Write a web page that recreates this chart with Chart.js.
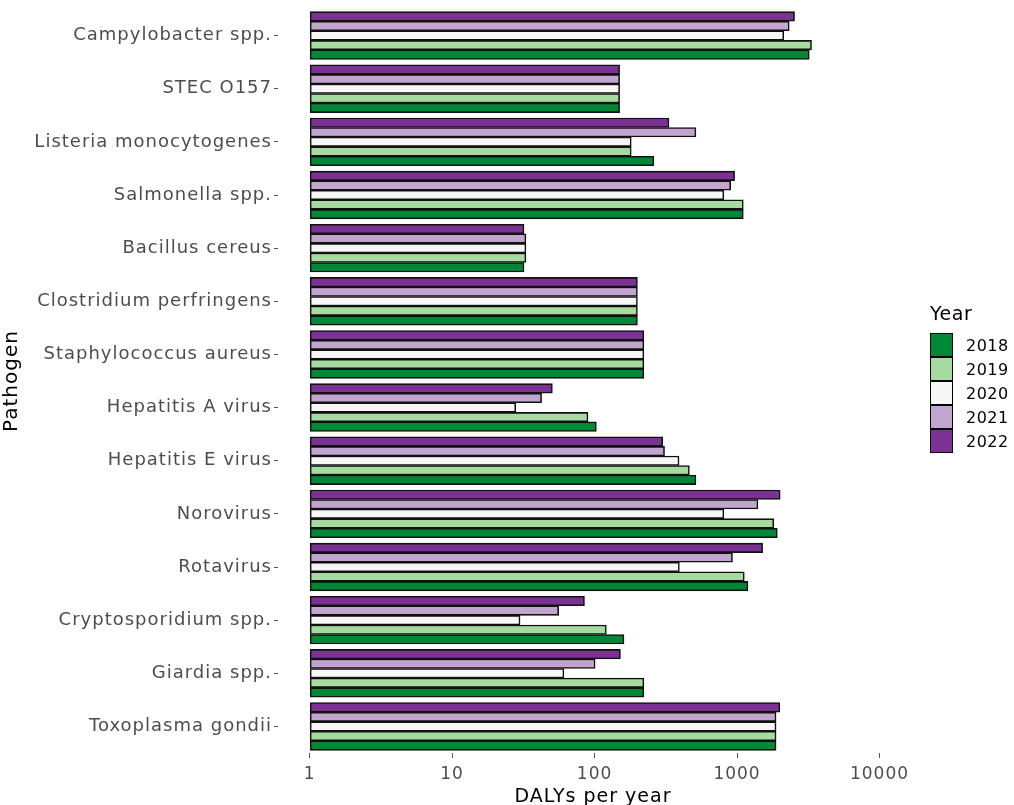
<!DOCTYPE html>
<html>
<head>
<meta charset="utf-8">
<script src="https://cdn.jsdelivr.net/npm/chart.js@4/dist/chart.umd.min.js"></script>
<style>
  body { margin: 0; background: #fff; }
  #wrap { position: relative; width: 1014px; height: 805px; }
  #legend { position: absolute; left: 930px; top: 302px; font-family: "DejaVu Sans", sans-serif; }
  #legend .title { font-size: 19px; color: #000; margin-bottom: 9px; letter-spacing: 0.5px; }
  #legend .item { display: flex; align-items: center; height: 24px; }
  #legend .box { width: 21px; height: 22px; border: 1px solid #000; box-sizing: content-box; margin-right: 13px; }
  #legend .lbl { font-size: 16px; color: #000; letter-spacing: 0.5px; }
</style>
</head>
<body>
<div id="wrap">
  <canvas id="chart" width="1014" height="805"></canvas>
  <div id="legend"></div>
</div>
<script>
const pathogens = ['Campylobacter spp.', 'STEC O157', 'Listeria monocytogenes', 'Salmonella spp.',
    'Bacillus cereus', 'Clostridium perfringens', 'Staphylococcus aureus', 'Hepatitis A virus',
    'Hepatitis E virus', 'Norovirus', 'Rotavirus', 'Cryptosporidium spp.', 'Giardia spp.', 'Toxoplasma gondii'];

const years = ['2018', '2019', '2020', '2021', '2022'];

// DALYs per year, one array per year, in pathogen order
const dalys2018 = [3215, 150, 261, 1107, 32, 200, 222, 103, 515, 1918, 1193, 161, 222, 1880];
const dalys2019 = [3335, 150, 181, 1107, 33, 200, 222, 90, 463, 1812, 1125, 121, 222, 1880];
const dalys2020 = [2130, 150, 181, 809, 33, 200, 222, 28, 392, 809, 394, 30, 61, 1880];
const dalys2021 = [2325, 150, 515, 903, 33, 200, 222, 42.5, 310, 1403, 930, 56, 101, 1880];
const dalys2022 = [2535, 150, 333, 962, 32, 200, 222, 50.6, 301, 2010, 1513, 85, 152, 2000];

const xTicks = [1, 10, 100, 1000, 10000];

const colors = ['#008837', '#a6dba0', '#f7f7f7', '#c2a5cf', '#7b3294'];
const series = [dalys2018, dalys2019, dalys2020, dalys2021, dalys2022];

// 2022 drawn on top of each group, so datasets go in reverse order
const datasets = years.map((y, i) => ({
    label: y,
    data: series[i],
    backgroundColor: colors[i],
    borderColor: '#111',
    borderWidth: 1.6,
    borderSkipped: false,
    inflateAmount: 0.3,
    base: 1,
    categoryPercentage: 0.9,
    barPercentage: 1.0
})).reverse();

const font = '"DejaVu Sans", sans-serif';

// the reference text is a bit wider than DejaVu at this size
const spacing = {
    id: 'spacing',
    beforeDraw(chart) { chart.ctx.letterSpacing = '1px'; }
};

new Chart(document.getElementById('chart').getContext('2d'), {
    type: 'bar',
    data: { labels: pathogens, datasets: datasets },
    plugins: [spacing],
    options: {
        indexAxis: 'y',
        responsive: false,
        animation: false,
        layout: { padding: { top: 9, right: 106, left: 0, bottom: 0 } },
        plugins: {
            legend: { display: false },
            tooltip: { enabled: false }
        },
        scales: {
            x: {
                type: 'logarithmic',
                min: Math.pow(10, -0.2),
                max: Math.pow(10, 4.2),
                afterBuildTicks: function(scale) {
                    scale.ticks = xTicks.map(v => ({ value: v }));
                },
                afterFit: function(scale) { scale.height = 52; },
                border: { display: false },
                grid: { drawOnChartArea: false, drawTicks: true, tickLength: 5, color: '#555' },
                ticks: {
                    autoSkip: false,
                    maxRotation: 0,
                    padding: 6,
                    color: '#4d4d4d',
                    font: { family: font, size: 17 },
                    callback: v => String(v)
                },
                title: {
                    display: true,
                    text: 'DALYs per year',
                    color: '#000',
                    padding: { top: 0, bottom: -3 },
                    font: { family: font, size: 19 }
                }
            },
            y: {
                afterFit: function(scale) {
                    scale.width = 278;
                    scale.paddingTop = 0;
                    scale.paddingBottom = 0;
                },
                border: { display: false },
                grid: { offset: false, drawOnChartArea: false, drawTicks: true, tickLength: 4, color: '#555' },
                ticks: {
                    autoSkip: false,
                    padding: 2,
                    color: '#4d4d4d',
                    font: { family: font, size: 18 }
                },
                title: {
                    display: true,
                    text: 'Pathogen',
                    color: '#000',
                    padding: { top: 0, bottom: 0 },
                    font: { family: font, size: 20 }
                }
            }
        }
    }
});

// legend, 2018 first
const legend = document.getElementById('legend');
let html = '<div class="title">Year</div>';
years.forEach((y, i) => {
    html += '<div class="item"><span class="box" style="background:' + colors[i] + '"></span><span class="lbl">' + y + '</span></div>';
});
legend.innerHTML = html;
</script>
</body>
</html>
